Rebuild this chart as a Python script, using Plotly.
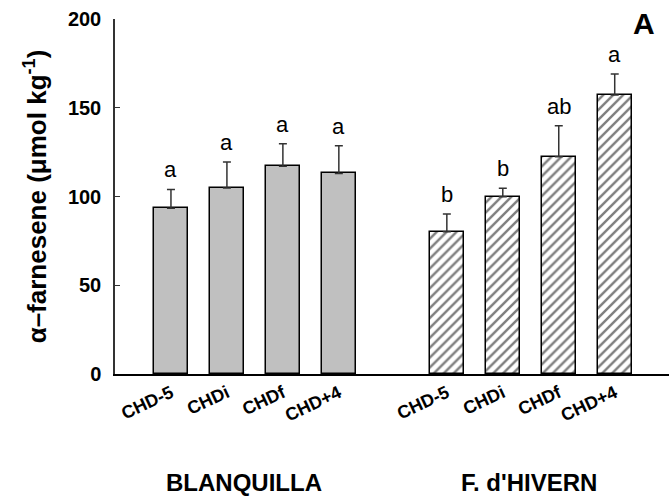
import plotly.graph_objects as go

categories = ["CHD-5", "CHDi", "CHDf", "CHD+4"]
groups = ["BLANQUILLA", "F. d'HIVERN"]
blanquilla_values = [93.4, 104.8, 117.0, 113.0]
blanquilla_errors = [10.6, 14.6, 12.7, 15.6]
blanquilla_letters = ["a", "a", "a", "a"]
hivern_values = [80.2, 99.9, 122.4, 157.2]
hivern_errors = [9.9, 4.7, 17.5, 11.8]
hivern_letters = ["b", "b", "ab", "a"]
y_ticks = [0, 50, 100, 150, 200]

FONT = "Liberation Sans, Arial"
group_offset = 4.93
n = len(categories)
x_b = [i for i in range(n)]
x_h = [i + group_offset for i in range(n)]

fig = go.Figure()
fig.add_trace(go.Bar(
    x=x_b, y=blanquilla_values, width=0.6,
    marker=dict(color="#c0c0c0", line=dict(color="black", width=1.5)),
    error_y=dict(type="data", symmetric=False, array=blanquilla_errors,
                 arrayminus=[0]*n, color="#333333", thickness=1.5, width=4),
    showlegend=False,
))
fig.add_trace(go.Bar(
    x=x_h, y=hivern_values, width=0.6,
    marker=dict(color="white", line=dict(color="black", width=1.5),
                pattern=dict(shape="/", fgcolor="black", bgcolor="white",
                             size=7, solidity=0.35)),
    error_y=dict(type="data", symmetric=False, array=hivern_errors,
                 arrayminus=[0]*n, color="#333333", thickness=1.5, width=4),
    showlegend=False,
))

annotations = []
for xs, vals, errs, letters in [(x_b, blanquilla_values, blanquilla_errors, blanquilla_letters),
                                (x_h, hivern_values, hivern_errors, hivern_letters)]:
    for x, v, e, l in zip(xs, vals, errs, letters):
        annotations.append(dict(x=x, y=v + e, text=l, showarrow=False,
                                yanchor="bottom", yshift=5,
                                font=dict(family=FONT, size=22, color="black")))

annotations.append(dict(xref="paper", yref="paper", x=0.954, y=0.988, text="<b>A</b>",
                        showarrow=False, xanchor="center", yanchor="middle",
                        font=dict(family=FONT, size=30, color="black")))
group_centers = [sum(x_b) / n - 0.2, sum(x_h) / n - 0.03]
for gx, g in zip(group_centers, groups):
    annotations.append(dict(x=gx, xref="x", y=-0.307, yref="paper", text="<b>" + g + "</b>",
                            showarrow=False, yanchor="middle",
                            font=dict(family=FONT, size=24, color="black")))

fig.update_layout(
    width=669, height=504,
    margin=dict(l=115, r=0, t=19, b=130),
    plot_bgcolor="white", paper_bgcolor="white",
    bargap=0,
    annotations=annotations,
    font=dict(family=FONT, color="black"),
)
fig.update_xaxes(
    range=[-1, 8.9], tickvals=x_b + x_h, ticktext=["<b>" + c + "</b>" for c in categories * 2],
    tickangle=-25, ticks="", showline=True, linecolor="black", linewidth=1.5,
    tickfont=dict(size=18, family=FONT, color="black"),
    showgrid=False, zeroline=False,
)
fig.update_yaxes(
    range=[0, 200], tickvals=y_ticks, ticktext=["<b>%d</b>" % t for t in y_ticks],
    ticks="inside", ticklen=5, tickcolor="#333333", showline=True, linecolor="#333333", linewidth=1.5,
    tickfont=dict(size=20, family=FONT, color="black"), ticklabelstandoff=8,
    title=dict(text="<b>α–farnesene (μmol kg<sup>-1</sup>)</b>", standoff=14,
               font=dict(size=26, family=FONT, color="black")),
    showgrid=False, zeroline=False,
)

fig.write_html("out.html", config={"displayModeBar": False},
               post_script="document.body.style.margin='0px';")
